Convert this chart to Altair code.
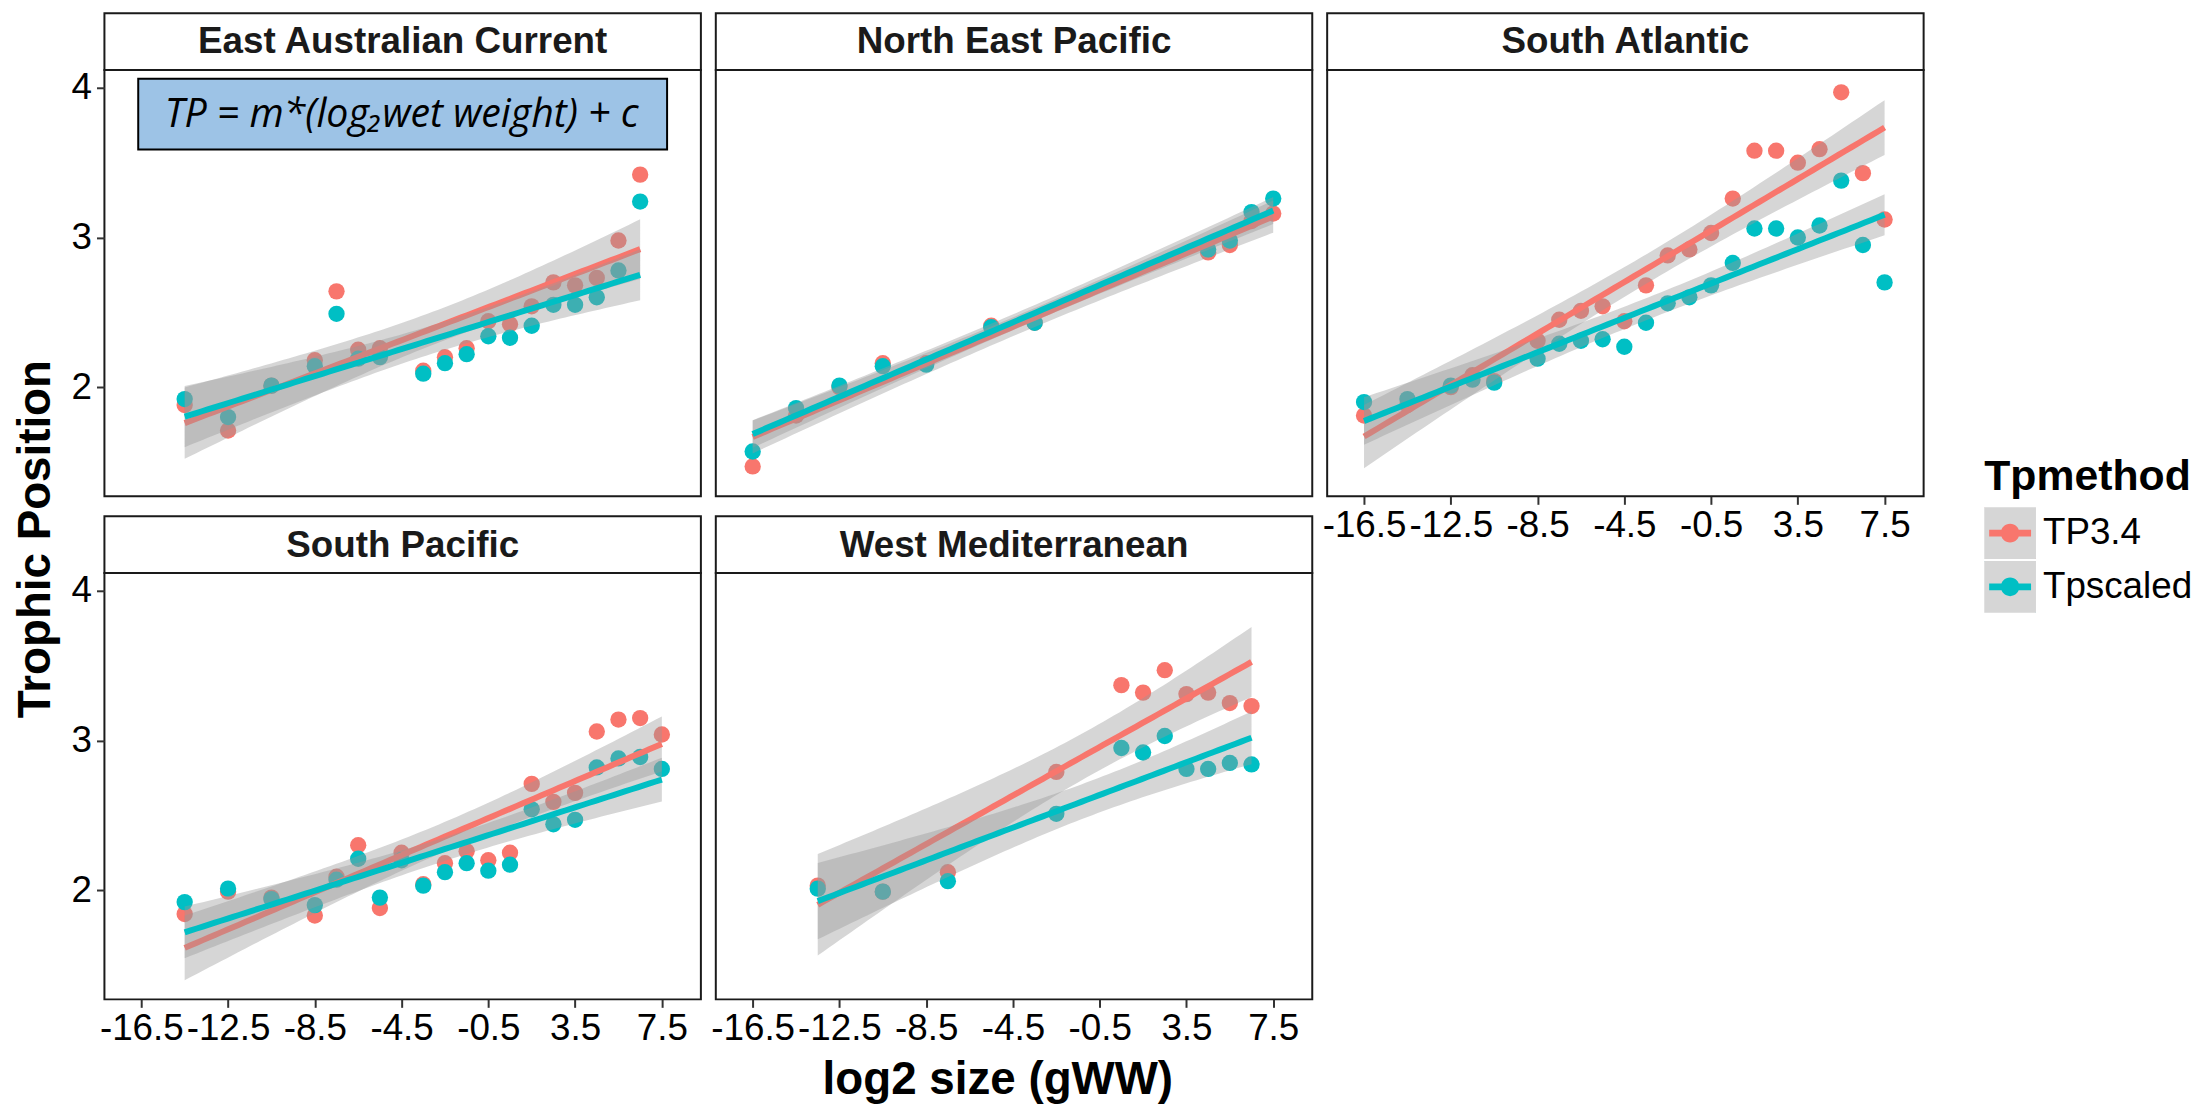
import altair as alt
import numpy as np
import pandas as pd

REGIONS = ["East Australian Current", "North East Pacific", "South Atlantic",
           "South Pacific", "West Mediterranean"]
METHODS = ["TP3.4", "Tpscaled"]
COLORS = ["#F8766D", "#00BFC4"]

EAC_X = [-14.5, -12.5, -10.5, -8.5, -7.5, -6.5, -5.5, -3.5, -2.5, -1.5, -0.5, 0.5, 1.5, 2.5, 3.5, 4.5, 5.5, 6.5]
EAC_TP34 = [1.88, 1.71, 2.01, 2.18, 2.64, 2.25, 2.26, 2.11, 2.20, 2.26, 2.44, 2.42, 2.54, 2.70, 2.68, 2.73, 2.98, 3.42]
EAC_TPS = [1.92, 1.80, 2.01, 2.14, 2.49, 2.19, 2.20, 2.09, 2.16, 2.22, 2.34, 2.33, 2.41, 2.55, 2.55, 2.60, 2.78, 3.24]

NEP_X = [-16.5, -14.5, -12.5, -10.5, -8.5, -5.5, -3.5, 4.5, 5.5, 6.5, 7.5]
NEP_TP34 = [1.47, 1.81, 2.00, 2.16, 2.16, 2.41, 2.43, 2.90, 2.95, 3.11, 3.16]
NEP_TPS = [1.57, 1.86, 2.01, 2.14, 2.15, 2.40, 2.43, 2.92, 2.98, 3.17, 3.26]

SA_X = [-16.5, -14.5, -12.5, -11.5, -10.5, -8.5, -7.5, -6.5, -5.5, -4.5, -3.5, -2.5, -1.5, -0.5,
        0.5, 1.5, 2.5, 3.5, 4.5, 5.5, 6.5, 7.5]
SA_TP34 = [1.81, 1.88, 2.00, 2.08, 2.04, 2.31, 2.45, 2.51, 2.54, 2.44, 2.68, 2.88, 2.92, 3.03,
           3.26, 3.58, 3.58, 3.50, 3.59, 3.97, 3.43, 3.12]
SA_TPS = [1.90, 1.92, 2.01, 2.05, 2.03, 2.19, 2.29, 2.31, 2.32, 2.27, 2.43, 2.56, 2.60, 2.68,
          2.83, 3.06, 3.06, 3.00, 3.08, 3.38, 2.95, 2.70]

SP_X = [-14.5, -12.5, -10.5, -8.5, -7.5, -6.5, -5.5, -4.5, -3.5, -2.5, -1.5, -0.5, 0.5, 1.5,
        2.5, 3.5, 4.5, 5.5, 6.5, 7.5]
SP_TP34 = [1.84, 1.99, 1.95, 1.83, 2.09, 2.30, 1.88, 2.25, 2.04, 2.18, 2.26, 2.20, 2.25, 2.71,
           2.59, 2.65, 3.06, 3.14, 3.15, 3.04]
SP_TPS = [1.92, 2.01, 1.94, 1.90, 2.07, 2.21, 1.95, 2.20, 2.03, 2.12, 2.18, 2.13, 2.17, 2.54,
          2.44, 2.47, 2.82, 2.88, 2.89, 2.81]

WM_X = [-13.5, -10.5, -7.5, -2.5, 0.5, 1.5, 2.5, 3.5, 4.5, 5.5, 6.5]
WM_TP34 = [2.03, 1.99, 2.12, 2.79, 3.37, 3.32, 3.47, 3.31, 3.32, 3.25, 3.23]
WM_TPS = [2.01, 1.99, 2.06, 2.51, 2.95, 2.92, 3.03, 2.81, 2.81, 2.85, 2.84]

XTICKS = [-16.5, -12.5, -8.5, -4.5, -0.5, 3.5, 7.5]
YTICKS = [2, 3, 4]
EQUATION = "TP = m*(log\u2082wet weight) + c"

SERIES = {
    "East Australian Current": (EAC_X, EAC_TP34, EAC_TPS),
    "North East Pacific": (NEP_X, NEP_TP34, NEP_TPS),
    "South Atlantic": (SA_X, SA_TP34, SA_TPS),
    "South Pacific": (SP_X, SP_TP34, SP_TPS),
    "West Mediterranean": (WM_X, WM_TP34, WM_TPS),
}

# ---- long table of points
rows = []
for reg, (xs, a, b) in SERIES.items():
    for xv, av, bv in zip(xs, a, b):
        rows.append({"region": reg, "method": "TP3.4", "x": xv, "tp": av})
        rows.append({"region": reg, "method": "Tpscaled", "x": xv, "tp": bv})
pts = pd.DataFrame(rows)


def t975(df):
    z = 1.959964
    g1 = (z**3 + z) / 4
    g2 = (5 * z**5 + 16 * z**3 + 3 * z) / 96
    g3 = (3 * z**7 + 19 * z**5 + 17 * z**3 - 15 * z) / 384
    g4 = (79 * z**9 + 776 * z**7 + 1482 * z**5 - 1920 * z**3 - 945 * z) / 92160
    return z + g1 / df + g2 / df**2 + g3 / df**3 + g4 / df**4


# ---- linear fits with 95% confidence band (like geom_smooth(method="lm"))
frows = []
for reg, (xs, a, b) in SERIES.items():
    for m, ys in zip(METHODS, (a, b)):
        x = np.array(xs, float)
        y = np.array(ys, float)
        n = len(x)
        slope, icpt = np.polyfit(x, y, 1)
        resid = y - (slope * x + icpt)
        s = np.sqrt(np.sum(resid**2) / (n - 2))
        xbar = x.mean()
        sxx = np.sum((x - xbar) ** 2)
        t = t975(n - 2)
        for xv in np.linspace(x.min(), x.max(), 80):
            f = slope * xv + icpt
            se = s * np.sqrt(1 / n + (xv - xbar) ** 2 / sxx)
            frows.append({"region": reg, "method": m, "x": xv, "fit": f,
                          "lo": f - t * se, "hi": f + t * se})
fits = pd.DataFrame(frows)

W, H = 600, 429
STRIP = 57
XDOM = [-18.2, 9.3]
YDOM = [1.27, 4.12]
FONT = "Liberation Sans"
# legend key: a horizontal bar with a dot in the middle (line + point); two tiny corner
# specks give the symbol the same full square extent as the grey key box behind it
SYMBOL = ("M-1,-1h0.01v0.01h-0.01Z M0.99,0.99h0.01v0.01h-0.01Z "
          "M-0.81,-0.13H0.81V0.13H-0.81Z M0.36,0A0.36,0.36,0,1,1,-0.36,0A0.36,0.36,0,1,1,0.36,0Z")
KEY = 52
ROWPAD = 2
LEG_X, LEG_Y = 1891, 389
TITLE_FS, TITLE_PAD = 43, 8
KEY_DOMAIN = [m + " " for m in METHODS]   # separate domain so the grey key legend is not merged


def xenc(field, show):
    ax = alt.Axis(values=XTICKS, labelExpr="replace(format(datum.value, '.1f'), '\u2212', '-')",
                  labelFontSize=37, labelColor="black", tickColor="#333333", tickSize=8,
                  tickWidth=2, domain=False, grid=False, title=None, labelPadding=3,
                  labelFont=FONT, labelOverlap=False, labelFlush=False) if show else None
    return alt.X(field, type="quantitative", scale=alt.Scale(domain=XDOM, nice=False, zero=False), axis=ax)


def yenc(field, show):
    ax = alt.Axis(values=YTICKS, labelFontSize=37, labelColor="black", tickColor="#333333",
                  tickSize=8, tickWidth=2, domain=False, grid=False, title=None, labelPadding=5,
                  labelFont=FONT) if show else None
    return alt.Y(field, type="quantitative", scale=alt.Scale(domain=YDOM, nice=False, zero=False), axis=ax)


def panel(name, show_x, show_y, note=False):
    p = pts[pts.region == name]
    layers = [
        alt.Chart(p).mark_circle(size=270, opacity=1).encode(
            x=xenc("x", show_x), y=yenc("tp", show_y),
            color=alt.Color("method:N", scale=alt.Scale(domain=METHODS, range=COLORS),
                            legend=alt.Legend(title="Tpmethod", titleFontSize=TITLE_FS, titleFont=FONT,
                                              titleFontWeight="bold", titleColor="black",
                                              titleLimit=0, labelLimit=0, titlePadding=TITLE_PAD,
                                              labelFontSize=37, labelFont=FONT, labelColor="black",
                                              symbolType=SYMBOL, symbolSize=KEY * KEY,
                                              symbolStrokeWidth=0, symbolOpacity=1,
                                              rowPadding=ROWPAD, labelOffset=7, zindex=2,
                                              orient="none", legendX=LEG_X, legendY=LEG_Y))
        )
    ]
    if note:
        # grey key backgrounds of the legend (like ggplot's smooth legend keys); no marks drawn
        layers.append(
            alt.Chart(p).mark_point(filled=True, color="#D6D6D6", opacity=1).transform_filter(
                "false").transform_calculate(key="datum.method + ' '").encode(
                x=xenc("x", show_x), y=yenc("tp", show_y),
                shape=alt.Shape("key:N", scale=alt.Scale(domain=KEY_DOMAIN, range=["square", "square"]),
                                legend=alt.Legend(title=None, labelExpr="''", symbolSize=KEY * KEY,
                                                  symbolFillColor="#D6D6D6", symbolStrokeWidth=0,
                                                  symbolOpacity=1, rowPadding=ROWPAD, zindex=1,
                                                  labelFontSize=37, labelOffset=0,
                                                  orient="none", legendX=LEG_X,
                                                  legendY=LEG_Y + TITLE_FS + TITLE_PAD)))
        )
    for m, col in zip(METHODS, COLORS):
        f = fits[(fits.region == name) & (fits.method == m)]
        layers.append(alt.Chart(f).mark_area(color="#999999", opacity=0.4, clip=True).encode(
            x=xenc("x", show_x), y=yenc("lo", show_y), y2="hi:Q"))
        layers.append(alt.Chart(f).mark_line(color=col, strokeWidth=6, clip=True).encode(
            x=xenc("x", show_x), y=yenc("fit", show_y)))
    strip_df = pd.DataFrame({"region": [name]})
    layers.append(alt.Chart(strip_df).mark_rect(fill="white", stroke="#1a1a1a", strokeWidth=2).encode(
        x=alt.value(0), x2=alt.value(W), y=alt.value(-STRIP), y2=alt.value(0)))
    layers.append(alt.Chart(strip_df).mark_text(font=FONT, fontSize=37, fontWeight="bold",
                                                color="#1a1a1a", baseline="middle").encode(
        text="region:N", x=alt.value(W / 2), y=alt.value(-STRIP / 2 + 1)))
    if note:
        note_df = pd.DataFrame({"label": [EQUATION]})
        layers.append(alt.Chart(note_df).mark_rect(fill="#9DC3E6", stroke="black", strokeWidth=2).encode(
            x=alt.value(34), x2=alt.value(566), y=alt.value(9), y2=alt.value(80)))
        layers.append(alt.Chart(note_df).mark_text(font="Open Sans", fontSize=39.5, fontStyle="italic",
                                                   color="black", baseline="middle").encode(
            text="label:N", x=alt.value(299), y=alt.value(45)))
    return alt.layer(*layers).properties(width=W, height=H)


grid = alt.concat(
    panel(REGIONS[0], False, True, note=True),
    panel(REGIONS[1], False, False),
    panel(REGIONS[2], True, False),
    panel(REGIONS[3], True, True),
    panel(REGIONS[4], True, False),
    columns=3, bounds="flush", spacing={"row": 77, "column": 15},
).properties(
    title=alt.Title("log2 size (gWW)", orient="bottom", anchor="middle", fontSize=46,
                    fontWeight="bold", font=FONT, color="black", offset=11))

chart = alt.hconcat(grid).properties(
    title=alt.Title("Trophic Position", orient="left", anchor="middle", fontSize=46,
                    fontWeight="bold", font=FONT, color="black", offset=10, dx=18),
    padding={"top": 0, "left": 5, "right": 5, "bottom": 0},
).configure(font=FONT, background="white").configure_view(stroke="#1a1a1a", strokeWidth=2)

chart.save("out.html", embed_options={"renderer": "svg", "actions": False})
